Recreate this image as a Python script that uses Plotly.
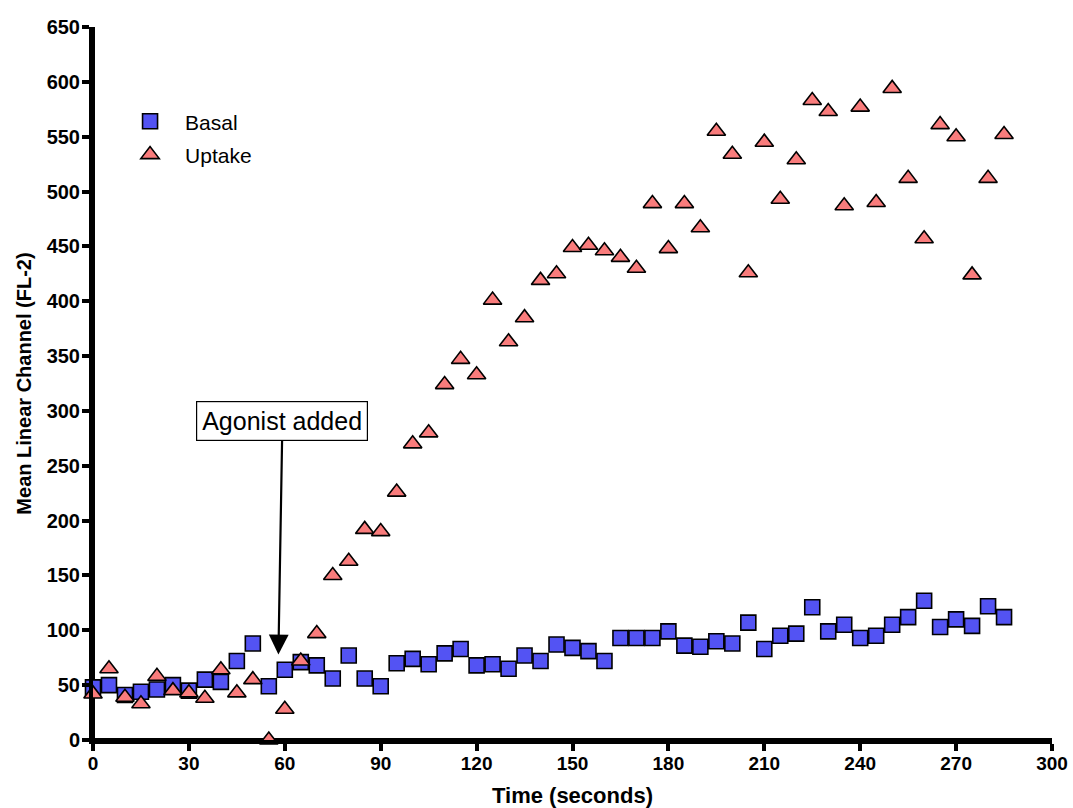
import plotly.graph_objects as go

time_s = list(range(0, 290, 5))

basal = [48, 50, 41, 44, 46, 50, 45, 55, 53, 72, 88, 49, 64, 71, 68, 56, 77, 56,
         49, 70, 74, 69, 79, 83, 68, 69, 65, 77, 72, 87, 84, 81, 72, 93, 93, 93,
         99, 86, 85, 90, 88, 107, 83, 95, 97, 121, 99, 105, 93, 95, 105, 112,
         127, 103, 110, 104, 122, 112]

uptake = [42, 65, 39, 33, 58, 45, 43, 38, 64, 43, 55, 0, 28, 72, 97, 150, 163,
          192, 190, 226, 270, 280, 324, 347, 333, 401, 363, 385, 419, 425, 449,
          451, 446, 440, 430, 489, 448, 489, 467, 555, 534, 426, 545, 493, 529,
          583, 573, 487, 577, 490, 594, 512, 457, 561, 550, 424, 512, 552]

x_ticks = list(range(0, 301, 30))
y_ticks = list(range(0, 651, 50))

FONT = "Liberation Sans, Arial, sans-serif"

fig = go.Figure()
fig.add_trace(go.Scatter(
    x=time_s, y=basal, mode="markers", name="Basal", legendgroup="a",
    marker=dict(symbol="square", size=15, color="#5353F3",
                line=dict(color="black", width=1.6)),
    cliponaxis=False))
fig.add_trace(go.Scatter(
    x=time_s, y=uptake, mode="markers", name="Uptake", legendgroup="b",
    marker=dict(symbol="triangle-up", size=16, color="#F97C7C",
                line=dict(color="black", width=1.6)),
    cliponaxis=False))

fig.add_annotation(
    x=58, y=78, xref="x", yref="y", ax=4, ay=-233, axref="pixel", ayref="pixel",
    text="Agonist added", showarrow=True, arrowhead=2, arrowsize=1.8,
    arrowwidth=2.2, arrowcolor="black", bordercolor="black", borderwidth=1.2,
    borderpad=5, bgcolor="white",
    font=dict(family=FONT, size=25, color="black"))

axis_common = dict(showline=True, linewidth=4, linecolor="black", mirror=False,
                   ticks="outside", ticklen=7, tickwidth=4, tickcolor="black",
                   showgrid=False, zeroline=False, automargin=False)

fig.update_xaxes(range=[0, 300], tickvals=x_ticks, ticktext=[str(v) for v in x_ticks],
                 tickfont=dict(family=FONT, size=19, color="black", weight="bold"),
                 ticklabelstandoff=-4,
                 title=dict(text="<b>Time (seconds)</b>", standoff=18,
                            font=dict(family=FONT, size=22, color="black")),
                 **axis_common)
fig.update_yaxes(range=[0, 650], tickvals=y_ticks, ticktext=[str(v) for v in y_ticks],
                 tickfont=dict(family=FONT, size=20, color="black", weight="bold"),
                 ticklabelstandoff=-2,
                 title=dict(text="<b>Mean Linear Channel (FL-2)</b>", standoff=11,
                            font=dict(family=FONT, size=20, color="black")),
                 **axis_common)

# thick axis lines (reinforce the axis spines), drawn beneath the markers
fig.add_shape(type="line", xref="paper", yref="paper", x0=-0.004, x1=1.0,
              y0=0, y1=0, ysizemode="pixel", yanchor=0,
              line=dict(color="black", width=4), layer="below")
fig.add_shape(type="line", xref="paper", yref="paper", y0=-0.004, y1=1.0,
              x0=0, x1=0, xsizemode="pixel", xanchor=0,
              line=dict(color="black", width=4), layer="below")

fig.update_layout(
    width=1073, height=808, autosize=False,
    margin=dict(l=93, r=21, t=27, b=68),
    paper_bgcolor="white", plot_bgcolor="white",
    showlegend=True,
    legend=dict(x=0.023, y=0.896, xanchor="left", yanchor="top",
                font=dict(family=FONT, size=21, color="black"),
                itemwidth=60, tracegroupgap=3, traceorder="grouped",
                bgcolor="rgba(0,0,0,0)"),
)

fig.write_html("out.html")
